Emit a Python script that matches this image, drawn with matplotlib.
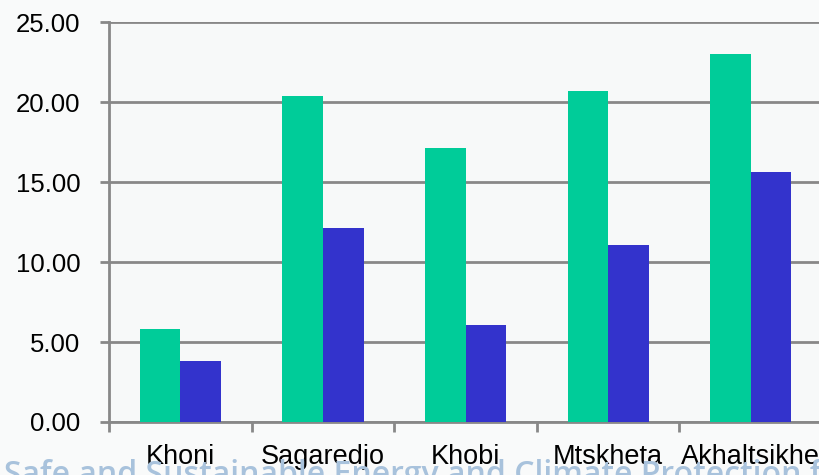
import matplotlib.pyplot as plt
import numpy as np

plt.rcParams['font.family'] = ['Liberation Sans', 'DejaVu Sans']

towns = ['Khoni', 'Sagaredjo', 'Khobi', 'Mtskheta', 'Akhaltsikhe']
green_vals = [5.8, 20.4, 17.1, 20.7, 23.0]
blue_vals = [3.8, 12.1, 6.05, 11.05, 15.6]

fig = plt.figure(figsize=(8.2, 4.75), dpi=100, facecolor='#f9fafa')
ax = fig.add_axes([0.133, 0.1116, 0.8695, 0.842], facecolor='#f7f9f9')

x = np.arange(len(towns)) + 0.5
w = 0.285
ax.bar(x - w / 2, green_vals, w, color='#00cc99', zorder=3)
ax.bar(x + w / 2, blue_vals, w, color='#3333cc', zorder=3)

ax.set_xlim(0, 5)
ax.set_ylim(0, 25)
ax.set_yticks(np.arange(0, 26, 5))
ax.set_yticklabels(['%.2f' % v for v in np.arange(0, 26, 5)], fontsize=18.5)
ax.yaxis.grid(True, color='#888888', linewidth=2, zorder=1)
ax.tick_params(axis='y', length=6.5, width=2, color='#888888', pad=14)

ax.set_xticks(np.arange(0, 6))
ax.set_xticklabels([])
ax.set_xticks(x, minor=True)
ax.set_xticklabels(towns, minor=True, fontsize=19.5)
ax.tick_params(axis='x', which='major', length=7, width=2, color='#888888')
ax.tick_params(axis='x', which='minor', length=0, pad=16)

for s in ['top', 'right']:
    ax.spines[s].set_visible(False)
for s in ['left', 'bottom']:
    ax.spines[s].set_color('#888888')
    ax.spines[s].set_linewidth(2)

# watermark peeking at bottom
fig.text(0.005, 0.0, 'Safe and Sustainable Energy and Climate Protection for All',
         fontsize=23, color='#a8c2dc', va='center', ha='left',
         family='Open Sans', fontweight='semibold', zorder=0)

fig.savefig('out.png', dpi=100, facecolor=fig.get_facecolor())
